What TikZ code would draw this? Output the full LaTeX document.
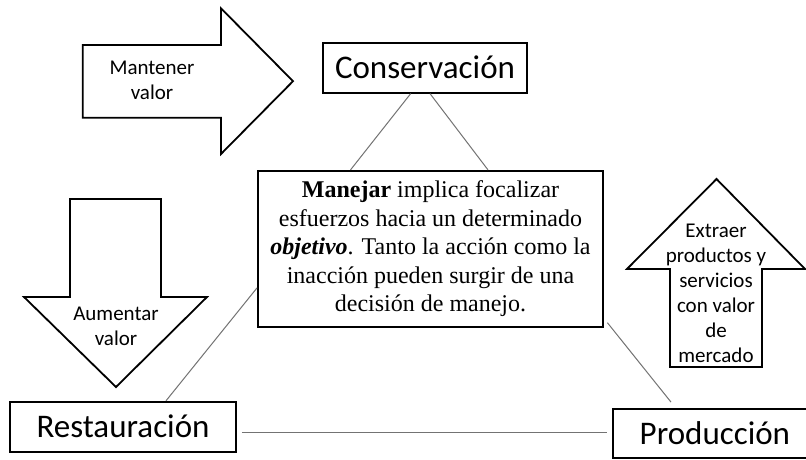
\documentclass[tikz,border=0pt]{standalone}
\usepackage{fontspec}
\setmainfont{Liberation Serif}
\setsansfont{Carlito}
\usetikzlibrary{calc}
\tikzset{
  bigbox/.style={draw, line width=1.8pt, minimum height=50pt, inner sep=0pt,
    font=\sffamily\fontsize{33}{40}\selectfont},
  conn/.style={draw=black!55, line width=1pt},
  arrowshape/.style={draw, line width=1.8pt, fill=white, line join=miter},
  lbl/.style={font=\sffamily\fontsize{21}{25}\selectfont, align=center, inner sep=0pt},
}
\begin{document}
\begin{tikzpicture}[x=1pt, y=-1pt]
\useasboundingbox (0,0) rectangle (806,460);
\clip (0,0) rectangle (806,460);
\fill[white] (0,0) rectangle (806,460);

% arrows
\draw[arrowshape] (82.7,45) -- (221,45) -- (221,8.3) -- (293,81.2) -- (221,154) -- (221,117.7) -- (82.7,117.7) -- cycle;
\node[lbl] (mant) at (152,80) {Mantener\\valor};

\draw[arrowshape] (70,199) -- (161,199) -- (161,297) -- (207,297) -- (116,387) -- (24,297) -- (70,297) -- cycle;
\node[lbl] (aum) at (116,326) {Aumentar\\valor};

\draw[arrowshape] (670,367) -- (762,367) -- (762,269) -- (805,269) -- (716.5,179) -- (627,269) -- (670,269) -- cycle;
\node[lbl] (extr) at (716,293) {Extraer\\productos y\\servicios\\con valor\\de\\mercado};

% boxes
\node[bigbox, minimum width=204pt] (cons) at (425,67.7) {Conservación};
\node[bigbox, minimum width=226pt] (rest) at (123,426.7) {Restauración};
\node[bigbox, minimum height=49pt, anchor=west] (prod) at (612,433.5) {\makebox[204pt]{Producción}\hspace{40pt}};

\node[draw, line width=1.8pt, minimum width=345pt, minimum height=156pt, inner sep=0pt,
  align=center, font=\rmfamily\fontsize{24}{28.5}\selectfont] (mgmt) at (430.5,248.8)
  {\textbf{Manejar} implica focalizar\\esfuerzos hacia un determinado\\\textbf{\textit{objetivo}}. Tanto la acción como la\\inacción pueden surgir de una\\decisión de manejo.};

% connectors
\draw[conn] ($(cons.south)+(-14.3,0)$) -- ($(mgmt.north)+(-80,0)$);
\draw[conn] ($(cons.south)+(5,0)$) -- ($(mgmt.north)+(57.5,0)$);
\draw[conn] ($(mgmt.west)+(0,39)$) -- ($(rest.north)+(43,0)$);
\draw[conn] ($(mgmt.south east)+(3.5,-5)$) -- ($(prod.north west)+(59,-6)$);
\draw[conn] ($(rest.east)+(5,5.3)$) -- ($(prod.west)+(-5,-1.5)$);
\end{tikzpicture}
\end{document}
